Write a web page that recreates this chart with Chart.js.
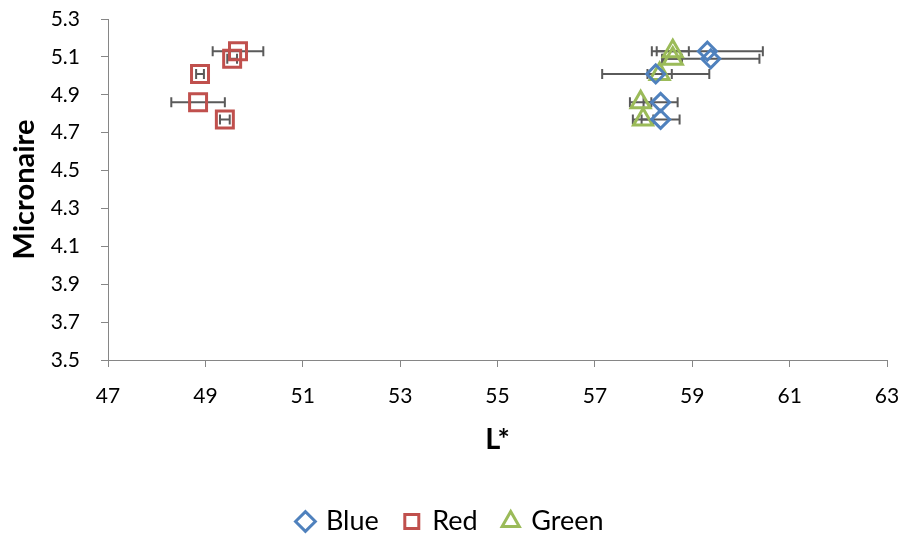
<!DOCTYPE html>
<html>
<head>
<meta charset="utf-8">
<script src="https://cdn.jsdelivr.net/npm/chart.js@4"></script>
<style>
  body { margin: 0; background: #fff; }
</style>
</head>
<body>
<canvas id="chart" width="902" height="535"></canvas>
<script>
// Micronaire (y) is shared by all three colour series
const micronaire = [5.13, 5.09, 5.01, 4.86, 4.77];

const blueL = [59.31, 59.38, 58.25, 58.35, 58.35];
const blueErr = [1.14, 1.0, 1.1, 0.35, 0.39];

const redL = [49.67, 49.55, 48.89, 48.85, 49.40];
const redErr = [0.52, 0.1, 0.08, 0.55, 0.1];

const greenL = [58.6, 58.6, 58.33, 57.94, 57.99];
const greenErr = [0.33, 0.19, 0.25, 0.22, 0.21];

const xTicks = [47, 49, 51, 53, 55, 57, 59, 61, 63];
const yTicks = [3.5, 3.7, 3.9, 4.1, 4.3, 4.5, 4.7, 4.9, 5.1, 5.3];

const toPoints = (xs) => xs.map((v, i) => ({ x: v, y: micronaire[i] }));

// horizontal error bars drawn with the chart's own scales
const errorBars = {
  id: 'errorBars',
  beforeDatasetsDraw(chart) {
    const ctx = chart.ctx;
    const x = chart.scales.x, y = chart.scales.y;
    ctx.save();
    ctx.strokeStyle = '#5a5a5a';
    ctx.lineWidth = 2;
    chart.data.datasets.forEach(ds => {
      ds.data.forEach((p, i) => {
        const e = ds.xErr[i];
        const py = y.getPixelForValue(p.y);
        const x0 = x.getPixelForValue(p.x - e);
        const x1 = x.getPixelForValue(p.x + e);
        ctx.beginPath();
        ctx.moveTo(x0, py); ctx.lineTo(x1, py);
        ctx.moveTo(x0, py - 5); ctx.lineTo(x0, py + 5);
        ctx.moveTo(x1, py - 5); ctx.lineTo(x1, py + 5);
        ctx.stroke();
      });
    });
    ctx.restore();
  }
};

const axisGrey = '#868686';

new Chart(document.getElementById('chart'), {
  type: 'scatter',
  data: {
    datasets: [
      {
        label: 'Blue',
        data: toPoints(blueL),
        xErr: blueErr,
        pointStyle: 'rectRot',
        pointRadius: 9,
        pointHoverRadius: 9,
        borderColor: '#4F81BD',
        backgroundColor: 'rgba(0,0,0,0)',
        pointBorderWidth: 3
      },
      {
        label: 'Red',
        data: toPoints(redL),
        xErr: redErr,
        pointStyle: 'rect',
        pointRadius: 12,
        pointHoverRadius: 12,
        borderColor: '#C0504D',
        backgroundColor: 'rgba(0,0,0,0)',
        pointBorderWidth: 3
      },
      {
        label: 'Green',
        data: toPoints(greenL),
        xErr: greenErr,
        pointStyle: 'triangle',
        pointRadius: 11,
        pointHoverRadius: 11,
        borderColor: '#9BBB59',
        backgroundColor: 'rgba(0,0,0,0)',
        pointBorderWidth: 3
      }
    ]
  },
  options: {
    responsive: false,
    animation: false,
    layout: { padding: { top: 0, right: 0, left: 0, bottom: -10 } },
    plugins: {
      legend: {
        position: 'bottom',
        labels: {
          usePointStyle: true,
          boxWidth: 14,
          boxHeight: 14,
          padding: 26,
          color: '#000',
          font: { family: 'Lato', size: 27 }
        }
      },
      tooltip: { enabled: false }
    },
    scales: {
      x: {
        type: 'linear',
        min: 47,
        max: 63,
        afterBuildTicks: (scale) => { scale.ticks = xTicks.map(v => ({ value: v })); },
        afterFit: (scale) => {
          scale.height = 122;
          scale.paddingLeft = 0;
          scale.paddingRight = 15;
        },
        ticks: {
          color: '#000',
          padding: 17,
          font: { family: 'Lato', size: 21 },
          callback: (v) => String(v)
        },
        grid: { drawOnChartArea: false, drawTicks: true, tickLength: 7, color: axisGrey },
        border: { color: axisGrey, width: 1 },
        title: {
          display: true,
          text: 'L*',
          color: '#000',
          font: { family: 'Lato', size: 29, weight: 'bold' },
          padding: { top: 0, bottom: 25 }
        }
      },
      y: {
        type: 'linear',
        min: 3.5,
        max: 5.3,
        afterBuildTicks: (scale) => { scale.ticks = yTicks.map(v => ({ value: v })); },
        afterFit: (scale) => {
          scale.width = 108;
          scale.paddingTop = 19;
          scale.paddingBottom = 0;
        },
        ticks: {
          color: '#000',
          padding: 21,
          font: { family: 'Lato', size: 21 },
          callback: (v) => Number(v).toFixed(1)
        },
        grid: { drawOnChartArea: false, drawTicks: true, tickLength: 7, color: axisGrey },
        border: { color: axisGrey, width: 1 },
        title: {
          display: true,
          text: 'Micronaire',
          color: '#000',
          font: { family: 'Lato', size: 29, weight: 'bold' },
          padding: { top: 7, bottom: 0 }
        }
      }
    }
  },
  plugins: [errorBars]
});
</script>
</body>
</html>
